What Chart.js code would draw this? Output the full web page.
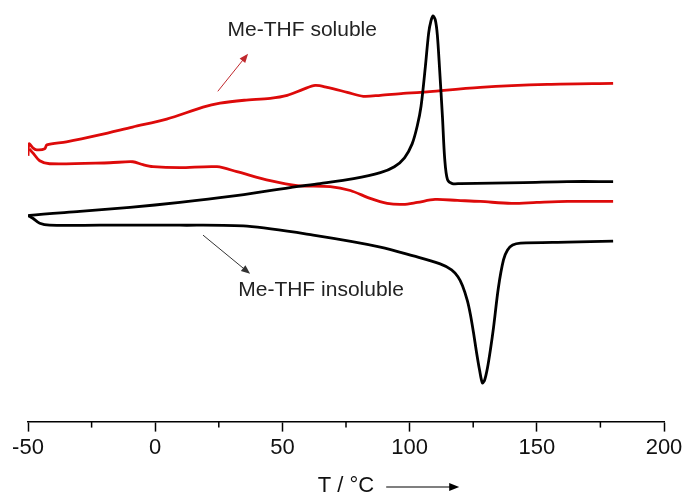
<!DOCTYPE html>
<html>
<head>
<meta charset="utf-8">
<script src="https://cdn.jsdelivr.net/npm/chart.js@4/dist/chart.umd.min.js"></script>
<style>
  html, body { margin: 0; padding: 0; background: #fff; }
  #wrap { width: 686px; height: 497px; }
</style>
</head>
<body>
<div id="wrap"><canvas id="dscChart"></canvas></div>
<script>
// DSC curves, heat flow in arbitrary units

// Me-THF insoluble, heating (exo peak ~109 °C)
const blackHeatT = [-50, -49.3, -29.6, -9.9, 9.7, 29.4, 53.0, 64.8, 78.0, 88.5, 94.0, 98.0, 101.0, 103.0, 104.5, 106.2, 107.5, 108.4, 109.2, 110.1, 110.9, 111.8, 112.9, 113.8, 114.9, 116.8, 120.0, 144.8, 162.1, 180];
const blackHeatV = [207, 208, 212, 216, 221, 227, 236, 240, 245, 251, 257, 266, 280, 298, 318, 358, 392, 404, 409, 405, 390, 355, 308, 265, 244, 240, 240, 241, 242, 242];

// Me-THF insoluble, cooling (dip ~128 °C)
const blackCoolT = [-50, -48.1, -45.4, -41.5, -21.8, 9.7, 36.1, 62.1, 88.5, 101.5, 112.0, 116.5, 119.0, 120.8, 122.7, 123.9, 125.1, 126.3, 127.5, 128.6, 129.5, 130.6, 131.8, 133.0, 134.9, 136.9, 138.5, 140.5, 143.6, 162.1, 180];
const blackCoolV = [208, 205, 200, 198, 198, 198, 197, 188, 176, 167, 159, 153, 146, 137, 122, 108, 90, 70, 52, 39, 42, 54, 73, 95, 135, 163, 173, 178, 180, 181, 182];

// Me-THF soluble, heating
const redHeatT = [-50, -49.6, -48.1, -46.6, -43.4, -42.6, -34.9, -21.9, -8.9, 4.5, 18.8, 25.5, 35.0, 45.2, 51.9, 58.1, 62.9, 67.6, 75.5, 81.8, 88.5, 97.5, 104.2, 127.8, 154.2, 180];
const redHeatV = [268, 280, 276, 274, 275, 279, 282, 289, 297, 305, 317, 321, 324, 326, 329, 335, 339, 337, 332, 328, 329, 331, 332, 337, 340, 341];

// Me-THF soluble, cooling
const redCoolT = [-49.5, -48.1, -45.4, -41.5, -17.8, -8.8, -4.8, -0.9, 9.7, 24.3, 32.1, 45.2, 55.8, 68.8, 76.7, 84.5, 91.2, 97.5, 103.0, 110.0, 118.8, 127.8, 140.0, 150.0, 162.1, 180];
const redCoolV = [275, 271, 263, 260, 261, 262, 259, 257, 256, 257, 252, 243, 238, 237, 233, 225, 220, 219, 221, 224, 223, 222, 220, 221, 222, 222];

const minorTicks = [-25, 25, 75, 125, 175];

const labels = [
    { text: 'Me-THF soluble', t: 57.8, v: 395 },
    { text: 'Me-THF insoluble', t: 65.2, v: 132 }
];
const arrows = [
    { from: [24.6, 333], to: [36.5, 371], color: '#c0282d' },
    { from: [18.8, 188], to: [37.3, 149], color: '#333' }
];

const RED = '#dd0a0a';
const BLACK = '#000';
const FONT = '"Liberation Sans", Arial, sans-serif';

function toXY(ts, vs) {
    return ts.map((t, i) => ({ x: t, y: vs[i] }));
}

function drawArrow(ctx, x1, y1, x2, y2, color, width, head) {
    const a = Math.atan2(y2 - y1, x2 - x1);
    ctx.save();
    ctx.strokeStyle = color;
    ctx.fillStyle = color;
    ctx.lineWidth = width;
    ctx.beginPath();
    ctx.moveTo(x1, y1);
    ctx.lineTo(x2 - Math.cos(a) * head * 0.8, y2 - Math.sin(a) * head * 0.8);
    ctx.stroke();
    ctx.beginPath();
    ctx.moveTo(x2, y2);
    ctx.lineTo(x2 - head * Math.cos(a) + head * 0.4 * Math.sin(a), y2 - head * Math.sin(a) - head * 0.4 * Math.cos(a));
    ctx.lineTo(x2 - head * Math.cos(a) - head * 0.4 * Math.sin(a), y2 - head * Math.sin(a) + head * 0.4 * Math.cos(a));
    ctx.closePath();
    ctx.fill();
    ctx.restore();
}

// minor ticks, text labels and arrows
const decorations = {
    id: 'decorations',
    afterDraw(chart) {
        const ctx = chart.ctx;
        const xs = chart.scales.x;
        const ys = chart.scales.y;
        const bottom = chart.chartArea.bottom;

        ctx.save();
        ctx.strokeStyle = '#000';
        ctx.lineWidth = 1.5;
        minorTicks.forEach(t => {
            const px = xs.getPixelForValue(t);
            ctx.beginPath();
            ctx.moveTo(px, bottom);
            ctx.lineTo(px, bottom + 6);
            ctx.stroke();
        });

        ctx.fillStyle = '#222';
        ctx.font = '21px ' + FONT;
        ctx.textAlign = 'center';
        ctx.textBaseline = 'middle';
        labels.forEach(l => {
            ctx.fillText(l.text, xs.getPixelForValue(l.t), ys.getPixelForValue(l.v));
        });
        ctx.restore();

        arrows.forEach(a => {
            drawArrow(ctx,
                xs.getPixelForValue(a.from[0]), ys.getPixelForValue(a.from[1]),
                xs.getPixelForValue(a.to[0]), ys.getPixelForValue(a.to[1]),
                a.color, 1, 9);
        });

        // arrow next to the axis title
        const ay = chart.height - 10;
        drawArrow(ctx, xs.getPixelForValue(90.8), ay, xs.getPixelForValue(119.5), ay, '#000', 1.2, 10);
    }
};

const lineStyle = {
    borderWidth: 2.8,
    pointRadius: 0,
    fill: false,
    tension: 0.3
};

new Chart(document.getElementById('dscChart'), {
    type: 'line',
    data: {
        datasets: [
            { ...lineStyle, label: 'insoluble heating', data: toXY(blackHeatT, blackHeatV), borderColor: BLACK },
            { ...lineStyle, label: 'insoluble cooling', data: toXY(blackCoolT, blackCoolV), borderColor: BLACK },
            { ...lineStyle, label: 'soluble heating', data: toXY(redHeatT, redHeatV), borderColor: RED },
            { ...lineStyle, label: 'soluble cooling', data: toXY(redCoolT, redCoolV), borderColor: RED }
        ]
    },
    options: {
        responsive: true,
        maintainAspectRatio: false,
        animation: false,
        layout: {
            padding: { left: 28, right: 22, top: 10, bottom: 0 }
        },
        plugins: {
            legend: { display: false },
            tooltip: { enabled: false }
        },
        scales: {
            x: {
                type: 'linear',
                min: -50,
                max: 200,
                border: { display: true, color: '#000', width: 1.5 },
                grid: {
                    drawOnChartArea: false,
                    drawTicks: true,
                    tickLength: 10,
                    tickWidth: 1.5,
                    tickColor: '#000'
                },
                ticks: {
                    stepSize: 50,
                    padding: 3,
                    color: '#111',
                    font: { family: FONT, size: 22 }
                },
                title: {
                    display: true,
                    text: 'T / °C',
                    color: '#111',
                    padding: { top: 11, bottom: 0 },
                    font: { family: FONT, size: 22, lineHeight: 1.0 }
                }
            },
            y: {
                display: false,
                min: 0,
                max: 415
            }
        }
    },
    plugins: [decorations]
});
</script>
</body>
</html>
